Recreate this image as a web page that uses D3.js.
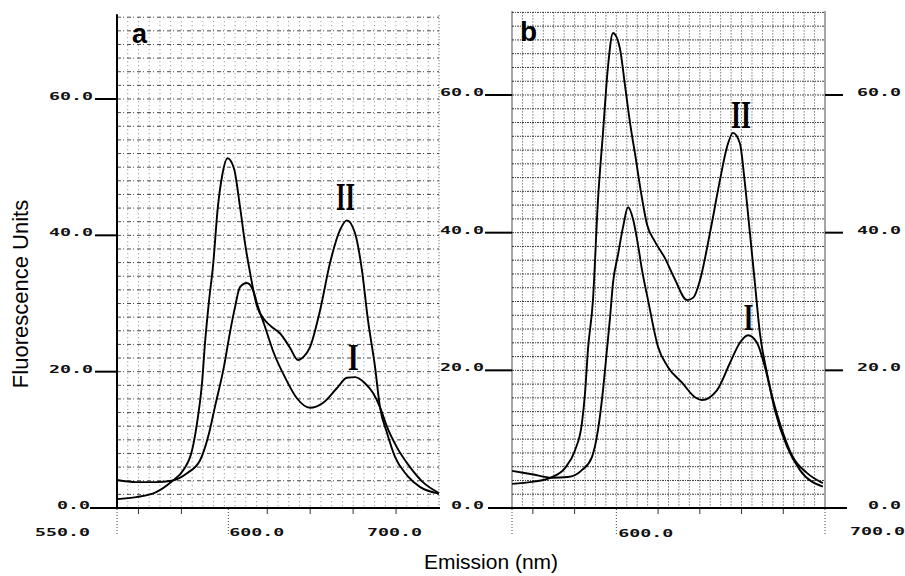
<!DOCTYPE html>
<html><head><meta charset="utf-8">
<script src="https://cdn.jsdelivr.net/npm/d3@7"></script>
<style>body{margin:0;background:#fff}svg{display:block}</style>
</head><body>
<svg id="c" width="905" height="576"></svg>
<script>
// ---- data ----
const yTickValues = [0, 20, 40, 60];
const yTickLabels = ["0.0", "20.0", "40.0", "60.0"];
const xTickValuesA = [550, 600, 700];
const xTickLabelsA = ["550.0", "600.0", "700.0"];
const xTickValuesB = [600, 700];
const xTickLabelsB = ["600.0", "700.0"];
const xMinorTicks = [560, 580, 620, 640, 660, 680];
const seriesNames = ["I", "II"];

// panel a, curve II  [nm, fluorescence]
const panelA_II = [[550,1.3],[559,1.6],[568,2.3],[575.5,3.9],[581,5.6],[585,8.5],[587.3,12.5],[589.6,18.3],[591,24.2],[592.9,30.5],[594.7,35.4],[597,44.2],[598.9,48.6],[601.5,51.3],[604.5,49.8],[607.3,44.2],[609.6,38.9],[612,34.5],[615.2,29.6],[618.5,27.7],[622,26.6],[626,25.6],[630.6,23.5],[634.3,21.7],[637,22.2],[639.9,23.6],[644.6,29.0],[649.2,35.9],[653.9,40.8],[657.1,42.2],[660.9,40.3],[664.1,34.9],[666.9,27.6],[670.2,20.7],[672.5,14.8],[675.8,11.0],[679.5,7.5],[685.1,4.8],[691.1,3.1],[700,2.1]];
// panel a, curve I
const panelA_I = [[550,4.1],[559,3.8],[568,3.8],[575.5,4.0],[582.6,5.1],[588.7,7.0],[592.9,11.0],[595.6,14.8],[599.8,20.7],[602.6,25.7],[605,29.5],[607.3,32.4],[610.5,33.0],[613.3,32.0],[615.7,29.5],[618.5,27.0],[623.1,22.7],[628.2,19.2],[633.8,16.1],[639.9,14.7],[645.9,15.4],[652.5,17.6],[657.1,19.1],[660.9,19.2],[665.5,18.3],[669.2,16.9],[672.5,14.8],[675.8,11.9],[680.4,8.9],[686.5,6.0],[692.5,3.8],[700,2.2]];
// panel b, curve II
const panelB_II = [[550,3.5],[559.6,3.8],[569.2,4.5],[575.4,5.8],[580.2,8.4],[583.5,12.3],[585,16.7],[586.4,23.0],[588.8,30.2],[591.2,44.7],[593.6,54.5],[596,64.1],[598.4,69.0],[601.7,66.8],[604.1,61.5],[606.5,56.1],[609.4,50.6],[611.8,45.9],[614.7,41.2],[618.5,38.7],[623.3,36.3],[628.1,33.2],[633.9,30.2],[637,30.6],[640.1,33.1],[644.9,40.0],[649.7,47.7],[653,52.4],[655.9,54.5],[659.2,53.0],[661.6,47.2],[664,40.0],[666.4,32.7],[668.8,25.4],[672.2,19.6],[676,14.2],[681.8,8.9],[688,5.5],[699,3.1]];
// panel b, curve I
const panelB_I = [[550,5.4],[559.6,4.9],[569.2,4.4],[576.8,4.5],[583.5,5.5],[588.3,7.4],[591.2,11.3],[593.6,17.1],[595.5,23.0],[597,27.7],[598.4,32.7],[600.8,36.8],[603.2,40.8],[605.6,43.7],[608,42.0],[610.4,38.2],[612.3,34.6],[615.2,30.2],[620,23.4],[624.7,20.5],[631.5,18.2],[637.7,16.1],[641,15.7],[648.2,17.1],[654.5,21.1],[659.2,24.0],[663.1,25.1],[667.4,24.0],[671.2,20.5],[675.1,15.7],[679.9,10.9],[684.6,7.4],[691.3,5.1],[699,3.6]];

// ---- drawing ----
const svg = d3.select("#c");
const MONO = "'DejaVu Sans Mono', monospace";

function tickText(g, str, x, y, anchorEnd) {
  const len = str.length * 11;
  const x0 = anchorEnd ? x - len : x;
  g.append("text").attr("x", x0).attr("y", y)
    .attr("font-family", MONO).attr("font-weight", "bold").attr("font-size", 11)
    .attr("textLength", len).attr("lengthAdjust", "spacingAndGlyphs")
    .attr("fill", "#111").text(str);
}

function drawPanel(o) {
  const g = svg.append("g");
  const x = d3.scaleLinear().domain([550, 700]).range(o.xr);
  const y = d3.scaleLinear().domain([0, 60]).range(o.yr);
  const yTop = y(72);

  // grid
  const gv = d3.range(555, 700, 5);
  g.selectAll(".gv").data(gv).join("line")
    .attr("x1", d => x(d)).attr("x2", d => x(d))
    .attr("y1", yTop).attr("y2", y(0))
    .attr("stroke", o.gridV).attr("stroke-width", 1)
    .attr("stroke-dasharray", o.dashV);
  const gh = d3.range(2, 73, 2);
  g.selectAll(".gh").data(gh).join("line")
    .attr("x1", x(550)).attr("x2", x(700))
    .attr("y1", d => y(d)).attr("y2", d => y(d))
    .attr("stroke", o.gridH).attr("stroke-width", 1)
    .attr("stroke-dasharray", o.dashH);

  // curves
  const line = d3.line().x(d => x(d[0])).y(d => y(d[1])).curve(d3.curveMonotoneX);
  [o.I, o.II].forEach(s => {
    g.append("path").attr("d", line(s)).attr("fill", "none")
      .attr("stroke", "#000").attr("stroke-width", 1.9);
  });
  return {g, x, y, yTop};
}

// Panel a
const A = drawPanel({xr: [117, 439], yr: [508, 99], I: panelA_I, II: panelA_II,
  gridV: "#8a8a8a", dashV: "1,3", gridH: "#4a4a4a", dashH: "4,2,1,3"});
{
  const {g, x, y, yTop} = A;
  g.append("line").attr("x1", x(700)).attr("x2", x(700)).attr("y1", yTop - 2).attr("y2", y(0))
    .attr("stroke", "#555").attr("stroke-dasharray", "1,2");
  g.append("line").attr("x1", x(550)).attr("x2", x(550)).attr("y1", yTop - 3).attr("y2", y(0) + 1)
    .attr("stroke", "#000").attr("stroke-width", 2);
  g.append("line").attr("x1", 90).attr("x2", x(700) + 1).attr("y1", y(0)).attr("y2", y(0))
    .attr("stroke", "#000").attr("stroke-width", 2);
  yTickValues.slice(1).forEach(v => {
    g.append("line").attr("x1", 95).attr("x2", x(550)).attr("y1", y(v)).attr("y2", y(v))
      .attr("stroke", "#000").attr("stroke-width", 2);
  });
  yTickValues.forEach((v, i) => tickText(g, yTickLabels[i], v === 0 ? 90 : 93, y(v) + 1, true));
  xMinorTicks.forEach(v => {
    g.append("line").attr("x1", x(v)).attr("x2", x(v)).attr("y1", y(0) + 1).attr("y2", y(0) + 6)
      .attr("stroke", "#333").attr("stroke-width", 1);
  });
  [550, 600].forEach(v => {
    g.append("line").attr("x1", x(v) + (v === 600 ? 4 : 0)).attr("x2", x(v) + (v === 600 ? 4 : 0))
      .attr("y1", y(0) + 1).attr("y2", y(0) + 27)
      .attr("stroke", "#444").attr("stroke-width", 1).attr("stroke-dasharray", "1,2");
  });
  const offA = [-82, 5, -72];
  xTickValuesA.forEach((v, i) => tickText(g, xTickLabelsA[i], x(v) + offA[i], 536, false));
  g.append("text").attr("x", 132).attr("y", 43).attr("font-family", "'Liberation Sans', Arial, sans-serif")
    .attr("font-weight", "bold").attr("font-size", 27).text("a");
}

// Panel b
const B = drawPanel({xr: [512, 825], yr: [508, 95], I: panelB_I, II: panelB_II,
  gridV: "#3a3a3a", dashV: "1,2", gridH: "#3a3a3a", dashH: "2,1,1,1"});
{
  const {g, x, y, yTop} = B;
  [550, 700].forEach(v => {
    g.append("line").attr("x1", x(v)).attr("x2", x(v)).attr("y1", yTop - 1).attr("y2", y(0))
      .attr("stroke", "#222").attr("stroke-width", 1.6).attr("stroke-dasharray", "1,1");
  });
  g.append("line").attr("x1", 488).attr("x2", 847).attr("y1", y(0)).attr("y2", y(0))
    .attr("stroke", "#000").attr("stroke-width", 2);
  yTickValues.slice(1).forEach(v => {
    g.append("line").attr("x1", 485).attr("x2", x(550)).attr("y1", y(v)).attr("y2", y(v))
      .attr("stroke", "#000").attr("stroke-width", 2);
    g.append("line").attr("x1", x(700)).attr("x2", 843).attr("y1", y(v)).attr("y2", y(v))
      .attr("stroke", "#000").attr("stroke-width", 2);
  });
  yTickValues.forEach((v, i) => {
    tickText(g, yTickLabels[i], 484, y(v) + 1, true);
    tickText(g, yTickLabels[i], 901, y(v) + 1, true);
  });
  xMinorTicks.forEach(v => {
    g.append("line").attr("x1", x(v)).attr("x2", x(v)).attr("y1", y(0) + 1).attr("y2", y(0) + 6)
      .attr("stroke", "#333").attr("stroke-width", 1);
  });
  [550, 600, 700].forEach(v => {
    g.append("line").attr("x1", x(v)).attr("x2", x(v)).attr("y1", y(0) + 1).attr("y2", y(0) + 28)
      .attr("stroke", "#444").attr("stroke-width", 1).attr("stroke-dasharray", "1,2");
  });
  const offB = [2, 25];
  xTickValuesB.forEach((v, i) => tickText(g, xTickLabelsB[i], x(v) + offB[i], i === 0 ? 537 : 535, false));
  g.append("text").attr("x", 520).attr("y", 41).attr("font-family", "'Liberation Sans', Arial, sans-serif")
    .attr("font-weight", "bold").attr("font-size", 28).text("b");
}

// Roman numeral series labels
const numerals = [
  {t: seriesNames[1], p: A, nm: 652, yb: 210, fs: 40, len: 19},
  {t: seriesNames[0], p: A, nm: 657.5, yb: 370, fs: 38, len: 11},
  {t: seriesNames[1], p: B, nm: 655, yb: 128, fs: 40, len: 20},
  {t: seriesNames[0], p: B, nm: 661, yb: 330, fs: 38, len: 10}
];
numerals.forEach(n => {
  svg.append("text").attr("x", n.p.x(n.nm)).attr("y", n.yb)
    .attr("font-family", "'Liberation Serif', 'Times New Roman', serif").attr("font-weight", "bold")
    .attr("font-size", n.fs).attr("textLength", n.len).attr("lengthAdjust", "spacingAndGlyphs")
    .text(n.t);
});

// axis titles
svg.append("text").attr("transform", "translate(28,294) rotate(-90)").attr("text-anchor", "middle")
  .attr("font-family", "'Liberation Sans', Arial, sans-serif").attr("font-size", 22).text("Fluorescence Units");
svg.append("text").attr("x", 491).attr("y", 569).attr("text-anchor", "middle")
  .attr("font-family", "'Liberation Sans', Arial, sans-serif").attr("font-size", 21).text("Emission (nm)");
</script>
</body></html>
